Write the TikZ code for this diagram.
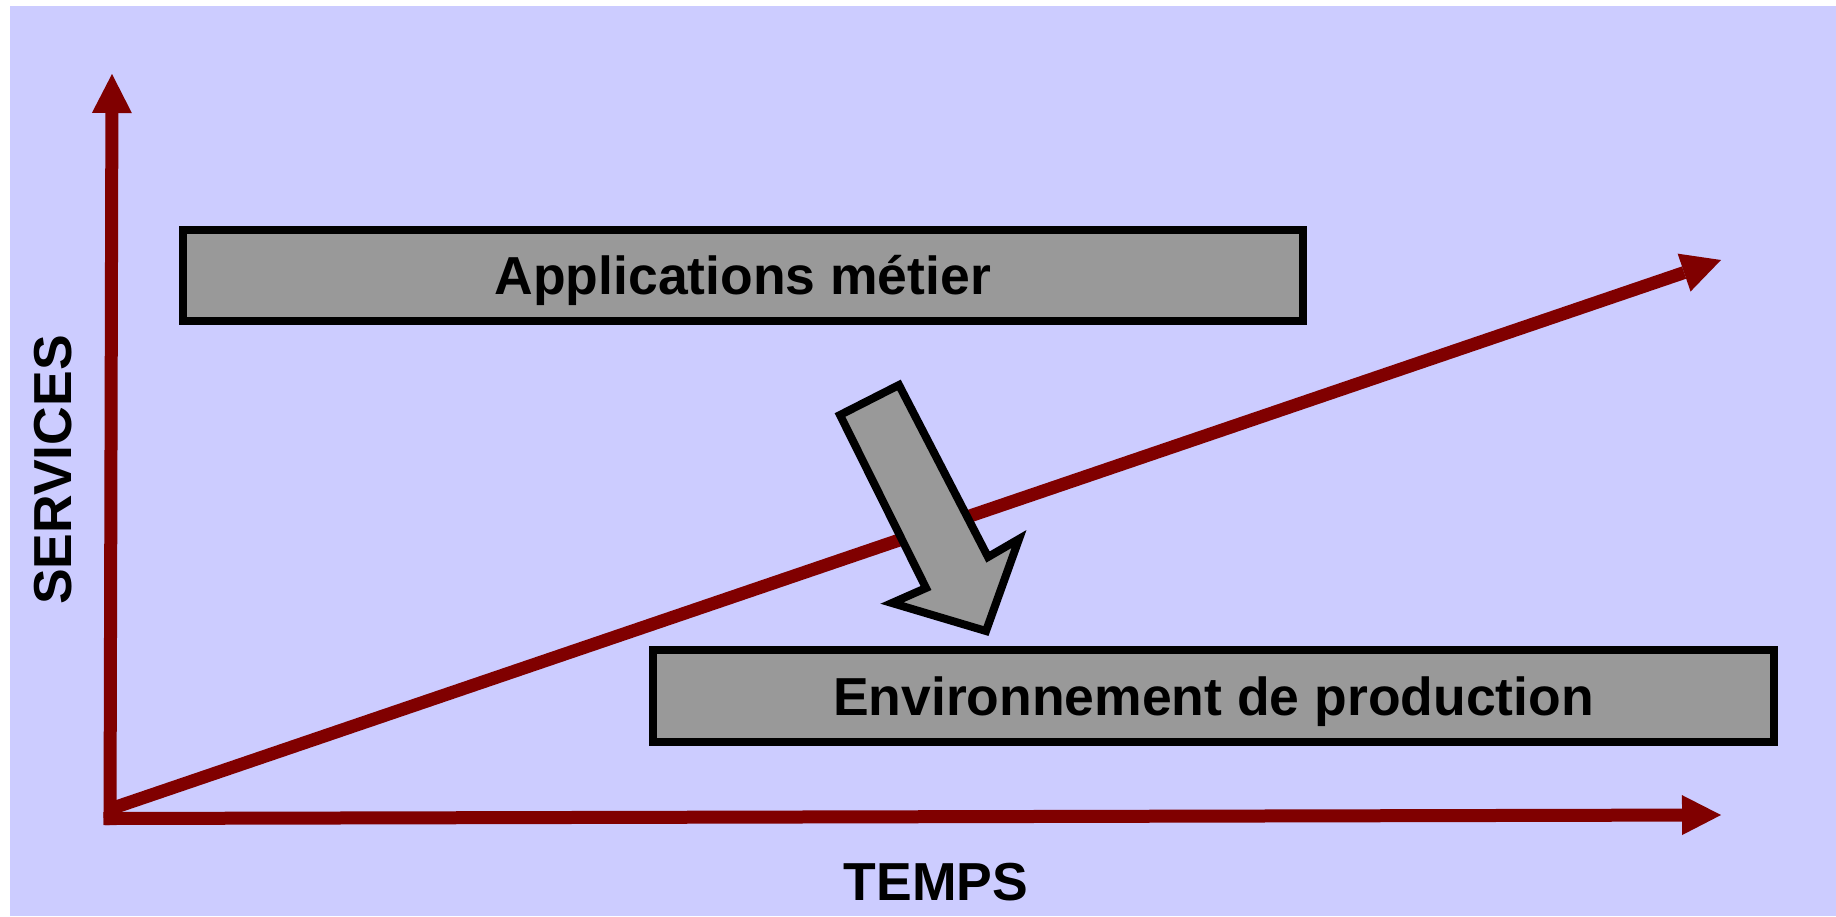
\documentclass[tikz,border=0pt]{standalone}
\usepackage{fontspec}
\setmainfont{Liberation Sans}
\usetikzlibrary{arrows.meta}
\definecolor{bgblue}{HTML}{CCCCFF}
\definecolor{axisred}{HTML}{800000}
\definecolor{boxgray}{HTML}{999999}
\tikzset{
  axis/.style={draw=axisred, line width=13pt, line cap=butt,
    -{Triangle[length=39pt,width=40pt,line width=0pt]}},
  labelbox/.style={draw=black, fill=boxgray, line width=8pt, inner sep=0pt,
    text height=38.5pt, text depth=0pt,
    font=\fontsize{53.5}{60}\selectfont\bfseries},
  axislabel/.style={inner sep=0pt, text height=38.5pt, text depth=0pt,
    font=\fontsize{53.5}{60}\selectfont\bfseries},
  bigarrow/.style={draw=black, fill=boxgray, line width=8pt, line join=miter},
}
\begin{document}
\begin{tikzpicture}[x=1pt,y=-1pt]
\useasboundingbox (0,0) rectangle (1836,916);
\fill[bgblue] (10,6) rectangle (1836,916);
% axes
\coordinate (vbot) at (110,825);
\coordinate (vtop) at (112,74);
\coordinate (hleft) at (103.5,818.5);
\coordinate (hright) at (1721,815);
\coordinate (dstart) at (113,808);
\coordinate (dtip) at (1721,260);
\draw[axis] (vbot) -- (vtop);
\draw[axis] (hleft) -- (hright);
\draw[axis] (dstart) -- (dtip);
% boxes
\node[labelbox, minimum width=1120.5pt, minimum height=91pt] (app) at (742.75,275.5) {Applications métier};
\node[labelbox, minimum width=1121pt, minimum height=92pt] (env) at (1213.5,696) {Environnement de production};
% big arrow
\draw[bigarrow] (840,415) -- (899,385) -- (988,557) -- (1019,539) -- (986,631) -- (892,603) -- (926,588) -- cycle;
% axis labels
\node[axislabel] (temps) at (936,881) {TEMPS};
\node[axislabel, rotate=90] (services) at (52,470) {SERVICES};
\end{tikzpicture}
\end{document}
